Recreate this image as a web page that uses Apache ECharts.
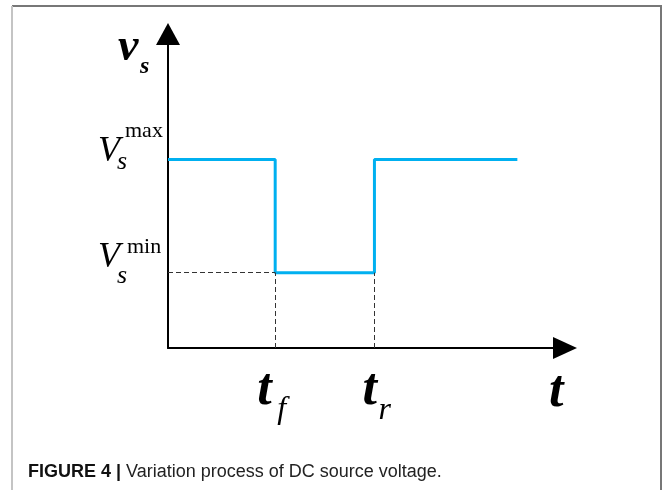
<!DOCTYPE html>
<html>
<head>
<meta charset="utf-8">
<script src="https://cdn.jsdelivr.net/npm/echarts@6/dist/echarts.min.js"></script>
<style>
  html, body { margin: 0; padding: 0; background: #fff; }
  #voltage-chart { width: 665px; height: 490px; }
</style>
</head>
<body>
<div id="voltage-chart"></div>
<script>
// DC source voltage step: v_s drops from V_s^max to V_s^min at t_f, comes back at t_r

var tMax = 10;
var vAxisMax = 10;
var vMax = 6;
var vMin = 2.4;
var tFall = 2.7;
var tRise = 5.2;
var tEnd = 8.8;

var stepTimes = [0, tFall, tFall, tRise, tRise, tEnd];
var stepVolts = [vMax, vMax, vMin, vMin, vMax, vMax];

var serif = '"Liberation Serif", "DejaVu Serif", serif';

var myChart = echarts.init(document.getElementById('voltage-chart'));

var option = {
    animation: false,
    backgroundColor: '#fff',
    grid: {
        left: 168,
        right: 100,
        top: 34,
        bottom: 142,
        outerBoundsMode: 'none'
    },
    xAxis: {
        type: 'value',
        min: 0,
        max: tMax,
        axisLine: {
            show: true,
            symbol: ['none', 'triangle'],
            symbolSize: [22, 24],
            lineStyle: { color: '#000', width: 2 }
        },
        axisTick: { show: false },
        axisLabel: { show: false },
        splitLine: { show: false }
    },
    yAxis: {
        type: 'value',
        min: 0,
        max: vAxisMax,
        axisLine: {
            show: true,
            symbol: ['none', 'triangle'],
            symbolSize: [24, 22],
            lineStyle: { color: '#000', width: 2 }
        },
        axisTick: { show: false },
        axisLabel: { show: false },
        splitLine: { show: false }
    },
    series: [{
        name: 'guides',
        type: 'line',
        data: [],
        silent: true,
        markLine: {
            silent: true,
            symbol: ['none', 'none'],
            label: { show: false },
            lineStyle: { color: '#333', width: 1, type: [5, 3] },
            data: [
                [{ coord: [0, vMin] }, { coord: [tFall, vMin] }],
                [{ coord: [tFall, 0] }, { coord: [tFall, vMin] }],
                [{ coord: [tRise, 0] }, { coord: [tRise, vMin] }]
            ]
        }
    }, {
        name: 'v_s',
        type: 'line',
        showSymbol: false,
        silent: true,
        z: 3,
        data: stepTimes.map(function (t, i) { return [t, stepVolts[i]]; }),
        lineStyle: { color: '#00b0f0', width: 3 }
    }]
};

myChart.setOption(option);

// math-style labels, placed from the axis scale
function px(x, y) {
    return myChart.convertToPixel({ gridIndex: 0 }, [x, y]);
}

function glyph(text, anchor, dx, baseDy, size, style) {
    return {
        type: 'text',
        silent: true,
        style: {
            text: text,
            x: anchor[0] + dx,
            y: anchor[1] + baseDy - size * 0.33,
            font: style + ' ' + size + 'px ' + serif,
            fill: '#000',
            align: 'left',
            verticalAlign: 'middle'
        }
    };
}

var axisTop = px(0, vAxisMax);
var hiPt = px(0, vMax);
var loPt = px(0, vMin);
var fallPt = px(tFall, 0);
var risePt = px(tRise, 0);
var endPt = px(tMax, 0);

var labels = [
    glyph('v', axisTop, -50, 29, 46, 'italic bold'),
    glyph('s', axisTop, -28, 41, 24, 'italic bold'),

    glyph('V', hiPt, -70, 4, 36, 'italic'),
    glyph('max', hiPt, -43, -21, 22, 'normal'),
    glyph('s', hiPt, -51, 11, 26, 'italic'),

    glyph('V', loPt, -70, -3, 36, 'italic'),
    glyph('min', loPt, -41, -18, 22, 'normal'),
    glyph('s', loPt, -51, 12, 26, 'italic'),

    glyph('t', fallPt, -18, 60, 52, 'italic bold'),
    glyph('f', fallPt, 2, 72, 32, 'italic'),
    glyph('t', risePt, -12, 60, 52, 'italic bold'),
    glyph('r', risePt, 4, 73, 32, 'italic'),
    glyph('t', endPt, -16, 62, 52, 'italic bold')
];

// figure frame and caption
labels.push({
    type: 'polyline',
    silent: true,
    shape: { points: [[12, 6], [661, 6], [661, 490]] },
    style: { stroke: '#777', lineWidth: 2, fill: null }
});
labels.push({
    type: 'line',
    silent: true,
    shape: { x1: 12, y1: 6, x2: 12, y2: 490 },
    style: { stroke: '#c4c4c4', lineWidth: 2 }
});
labels.push({
    type: 'text',
    silent: true,
    style: {
        text: '{b|FIGURE 4 |} Variation process of DC source voltage.',
        x: 28,
        y: 472,
        verticalAlign: 'middle',
        font: '18px "Liberation Sans", Arial, sans-serif',
        fill: '#222',
        rich: {
            b: { font: 'bold 18px "Liberation Sans", Arial, sans-serif', fill: '#111' }
        }
    }
});

myChart.setOption({ graphic: labels });
</script>
</body>
</html>
